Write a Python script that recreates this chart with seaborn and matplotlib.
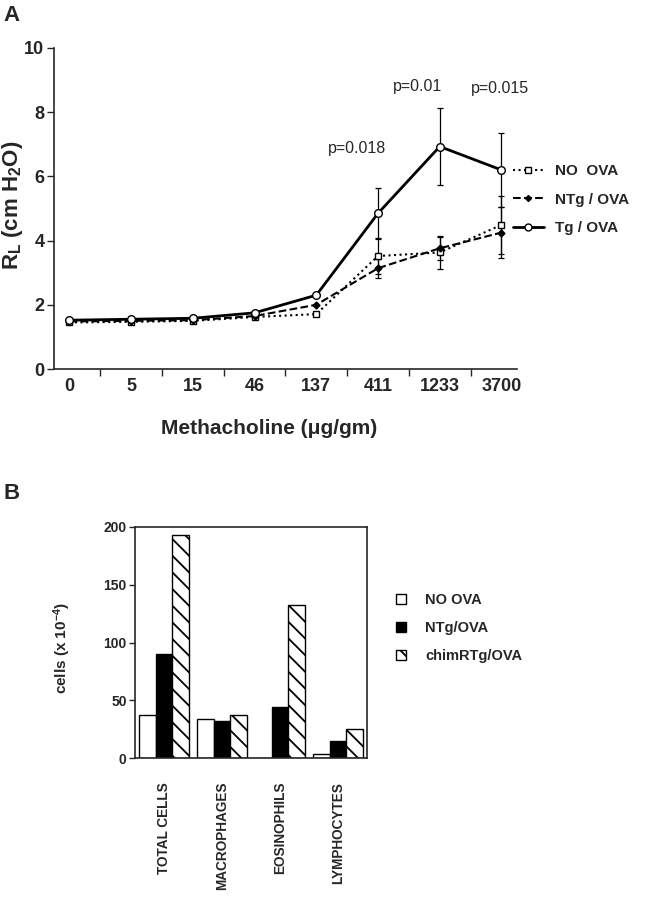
import numpy as np
import pandas as pd
import seaborn as sns
import matplotlib.pyplot as plt
from matplotlib.lines import Line2D
from matplotlib.patches import Patch

# Panel A data: airway resistance vs methacholine dose
doses = ['0', '5', '15', '46', '137', '411', '1233', '3700']
no_ova = [1.45, 1.47, 1.50, 1.62, 1.71, 3.52, 3.63, 4.49]
ntg_ova = [1.48, 1.50, 1.52, 1.65, 2.00, 3.14, 3.76, 4.25]
tg_ova = [1.52, 1.55, 1.58, 1.75, 2.30, 4.85, 6.93, 6.20]
no_ova_err = [0, 0, 0, 0, 0, 0.55, 0.50, 0.90]
ntg_ova_err = [0, 0, 0, 0, 0, 0.30, 0.35, 0.80]
tg_ova_err = [0, 0, 0, 0, 0, 0.80, 1.20, 1.15]
p_labels = ['p=0.018', 'p=0.01', 'p=0.015']
p_pos = [(4.66, 6.88), (5.64, 8.79), (6.97, 8.74)]

# Panel B data: BAL cell counts
cell_types = ['TOTAL CELLS', 'MACROPHAGES', 'EOSINOPHILS', 'LYMPHOCYTES']
groups_b = ['NO OVA', 'NTg/OVA', 'chimRTg/OVA']
no_ova_cells = [37, 34, 0.5, 3.7]
ntg_cells = [90, 32.5, 44, 15]
chim_cells = [193, 37.5, 132, 25.5]

sns.set_style('ticks')
plt.rcParams['font.family'] = ['Liberation Sans', 'DejaVu Sans']
plt.rcParams['mathtext.fontset'] = 'custom'
plt.rcParams['mathtext.rm'] = 'Liberation Sans:bold'
plt.rcParams['mathtext.it'] = 'Liberation Sans:bold'
plt.rcParams['mathtext.bf'] = 'Liberation Sans:bold'
plt.rcParams['hatch.linewidth'] = 1.3

fig = plt.figure(figsize=(6.51, 9.0), dpi=100)

# ---------------- Panel A ----------------
axa = fig.add_axes([0.083, 0.59, 0.711, 0.3567])
x = np.arange(len(doses))
df_a = pd.DataFrame({'x': np.tile(x, 3),
                     'RL': no_ova + ntg_ova + tg_ova,
                     'group': ['NO  OVA'] * 8 + ['NTg / OVA'] * 8 + ['Tg / OVA'] * 8})

styles = {'NO  OVA': dict(ls=':', marker='s', mfc='white', ms=5, lw=1.5, err=no_ova_err),
          'NTg / OVA': dict(ls='--', marker='D', mfc='black', ms=3.5, lw=1.5, err=ntg_ova_err),
          'Tg / OVA': dict(ls='-', marker='o', mfc='white', ms=5.5, lw=2.0, err=tg_ova_err)}
handles = []
for name, st in styles.items():
    sub = df_a[df_a.group == name]
    err = np.array(st['err'])
    m = err > 0
    axa.errorbar(sub.x.values[m], sub.RL.values[m], yerr=err[m], fmt='none',
                 ecolor='black', elinewidth=0.9, capsize=2.5, capthick=0.9, zorder=2)
    sns.lineplot(data=sub, x='x', y='RL', color='black', linestyle=st['ls'],
                 linewidth=st['lw'], marker=st['marker'], markersize=st['ms'],
                 markerfacecolor=st['mfc'], markeredgecolor='black',
                 markeredgewidth=1.0, ax=axa, zorder=3)
    handles.append(Line2D([], [], color='black', ls=st['ls'], lw=st['lw'],
                          marker=st['marker'], ms=st['ms'] - 0.5,
                          mfc=st['mfc'], mec='black', label=name))

for lab, (px, py) in zip(p_labels, p_pos):
    axa.text(px, py, lab, ha='center', va='center', fontsize=11.5)

axa.set_xlim(-0.25, len(doses) - 0.75)
axa.set_ylim(0, 10)
axa.set_yticks(range(0, 11, 2))
axa.set_xticks(x)
axa.set_xticklabels(doses)
axa.set_xticks(x[:-1] + 0.5, minor=True)
axa.tick_params(axis='x', which='major', length=0, pad=6.5)
axa.tick_params(axis='x', which='minor', length=5, width=1, direction='out')
axa.tick_params(axis='y', length=5, width=1, pad=2)
for lab in axa.get_xticklabels() + axa.get_yticklabels():
    lab.set_fontsize(13)
    lab.set_fontweight('bold')
for s in ['left', 'bottom']:
    axa.spines[s].set_linewidth(1.2)
sns.despine(ax=axa)
axa.set_xlabel('Methacholine (μg/gm)', fontsize=15, fontweight='bold')
axa.xaxis.set_label_coords(0.464, -0.157)
axa.set_ylabel(r'$\mathregular{R_L}$ (cm H$\mathregular{_2}$O)', fontsize=16, fontweight='bold')
axa.yaxis.set_label_coords(-0.063, 0.51)

fig.legend(handles=handles, loc='upper left', bbox_to_anchor=(0.788, 0.8176),
           frameon=False, borderpad=0, borderaxespad=0, handlelength=2.0,
           handletextpad=0.75, labelspacing=0.95,
           prop={'size': 11, 'weight': 'bold'})

fig.text(0.005, 0.983, 'A', fontsize=16, fontweight='bold', va='center')
fig.text(0.005, 0.4517, 'B', fontsize=16, fontweight='bold', va='center')

# ---------------- Panel B ----------------
axb = fig.add_axes([0.2074, 0.1574, 0.3564, 0.2574])
df_b = pd.DataFrame({'cell': cell_types * 3,
                     'count': no_ova_cells + ntg_cells + chim_cells,
                     'group': [g for g in groups_b for _ in cell_types]})
sns.barplot(data=df_b, x='cell', y='count', hue='group', hue_order=groups_b,
            palette=['white', 'black', 'white'], edgecolor='black', linewidth=1,
            width=0.86, legend=False, ax=axb)
for bar in axb.containers[2]:
    bar.set_hatch('\\\\')

axb.set_xlim(-0.5, len(cell_types) - 0.5)
axb.set_ylim(0, 200)
axb.set_yticks(range(0, 201, 50))
axb.tick_params(axis='x', length=0, pad=17)
axb.tick_params(axis='y', length=4.5, width=1, pad=1.5)
for lab in axb.get_xticklabels():
    lab.set_rotation(90)
    lab.set_fontsize(9.8)
    lab.set_fontweight('bold')
    lab.set_va('top')
for lab in axb.get_yticklabels():
    lab.set_fontsize(10)
    lab.set_fontweight('bold')
for s in axb.spines.values():
    s.set_linewidth(1.2)
axb.set_xlabel('')
axb.set_ylabel(r'cells (x 10$^{\mathregular{-4}}$)', fontsize=11, fontweight='bold')
axb.yaxis.set_label_coords(-0.267, 0.478)

leg_handles = [Patch(facecolor='white', edgecolor='black', label='NO OVA'),
               Patch(facecolor='black', edgecolor='black', label='NTg/OVA'),
               Patch(facecolor='white', edgecolor='black', hatch='\\\\', label='chimRTg/OVA')]
fig.legend(handles=leg_handles, loc='upper left', bbox_to_anchor=(0.609, 0.341),
           frameon=False, borderpad=0, borderaxespad=0, handlelength=0.65,
           handleheight=0.65, handletextpad=1.3, labelspacing=0.95,
           prop={'size': 10.5, 'weight': 'bold'})

fig.savefig('out.png', dpi=100)
